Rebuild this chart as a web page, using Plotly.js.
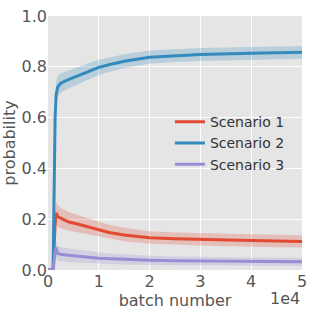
<!DOCTYPE html>
<html><head><meta charset="utf-8">
<script src="https://cdn.plot.ly/plotly-3.0.1.min.js"></script>
<style>html,body{margin:0;padding:0;background:#fff}</style>
</head><body><div id="chart" style="width:318px;height:318px"></div>
<script>
const batches = [0, 500, 1000, 1400, 1600, 1900, 2500, 4000, 6000, 8000, 10000, 12000, 15000, 20000, 25000, 30000, 40000, 50000];
const seriesNames = ["Scenario 1", "Scenario 2", "Scenario 3"];
const s1Mean  = [0, 0, 0, 0.18, 0.225, 0.21, 0.205, 0.19, 0.18, 0.17, 0.158, 0.148, 0.138, 0.127, 0.123, 0.12, 0.116, 0.112];
const s1Lower = [0, 0, 0, 0.13, 0.18, 0.17, 0.165, 0.155, 0.148, 0.14, 0.13, 0.122, 0.113, 0.103, 0.099, 0.096, 0.092, 0.089];
const s1Upper = [0, 0, 0, 0.23, 0.27, 0.255, 0.245, 0.228, 0.215, 0.203, 0.19, 0.178, 0.166, 0.153, 0.148, 0.145, 0.141, 0.137];
const s2Mean  = [0, 0, 0, 0.6, 0.69, 0.72, 0.735, 0.75, 0.765, 0.78, 0.798, 0.808, 0.822, 0.838, 0.844, 0.848, 0.853, 0.857];
const s2Lower = [0, 0, 0, 0.55, 0.65, 0.68, 0.698, 0.715, 0.732, 0.75, 0.768, 0.78, 0.795, 0.812, 0.819, 0.823, 0.828, 0.832];
const s2Upper = [0, 0, 0, 0.65, 0.74, 0.765, 0.775, 0.785, 0.8, 0.812, 0.828, 0.836, 0.849, 0.864, 0.87, 0.874, 0.878, 0.882];
const s3Mean  = [0, 0, 0, 0.07, 0.088, 0.066, 0.062, 0.058, 0.055, 0.05, 0.046, 0.044, 0.042, 0.038, 0.036, 0.035, 0.033, 0.032];
const s3Lower = [0, 0, 0, 0.04, 0.05, 0.035, 0.033, 0.031, 0.029, 0.026, 0.024, 0.023, 0.022, 0.02, 0.019, 0.018, 0.017, 0.017];
const s3Upper = [0, 0, 0, 0.1, 0.115, 0.095, 0.09, 0.085, 0.08, 0.074, 0.068, 0.065, 0.062, 0.056, 0.053, 0.051, 0.049, 0.048];
const xTickVals = [0, 10000, 20000, 30000, 40000, 50000];
const xTickText = ["0", "1", "2", "3", "4", "5"];
const yTickVals = [0, 0.2, 0.4, 0.6, 0.8, 1.0];
const yTickText = ["0.0", "0.2", "0.4", "0.6", "0.8", "1.0"];

const colors = ["#E24A33", "#348ABD", "#988ED5"];
const fills = ["rgba(226,74,51,0.25)", "rgba(52,138,189,0.25)", "rgba(152,142,213,0.25)"];
const means = [s1Mean, s2Mean, s3Mean];
const lowers = [s1Lower, s2Lower, s3Lower];
const uppers = [s1Upper, s2Upper, s3Upper];

const traces = [];
for (let i = 0; i < 3; i++) {
  traces.push({x: batches, y: lowers[i], mode: "lines", line: {width: 0, color: colors[i]}, showlegend: false, hoverinfo: "skip"});
  traces.push({x: batches, y: uppers[i], mode: "lines", line: {width: 0, color: colors[i]}, fill: "tonexty", fillcolor: fills[i], showlegend: false, hoverinfo: "skip"});
}
for (let i = 0; i < 3; i++) {
  traces.push({x: batches, y: means[i], mode: "lines", name: seriesNames[i], line: {width: 3, color: colors[i]}});
}

const tf = {family: "DejaVu Sans", size: 16, color: "#555"};
const layout = {
  width: 318, height: 318,
  margin: {l: 48, r: 16, t: 16, b: 48},
  paper_bgcolor: "#fff", plot_bgcolor: "#E5E5E5",
  font: tf,
  xaxis: {range: [0, 50000], tickvals: xTickVals, ticktext: xTickText, showgrid: true, gridcolor: "#fff", gridwidth: 1, zeroline: false, showline: false, ticks: "", ticklen: 0, tickfont: tf,
    title: {text: "batch number", font: tf, standoff: 0}},
  yaxis: {range: [0, 1.0], tickvals: yTickVals, ticktext: yTickText, showgrid: true, gridcolor: "#fff", gridwidth: 1, zeroline: false, showline: false, ticks: "", tickfont: tf,
    title: {text: "probability", font: tf, standoff: 4}},
  legend: {x: 0.48, y: 0.645, xanchor: "left", yanchor: "top", traceorder: "normal", bgcolor: "rgba(0,0,0,0)", font: {family: "DejaVu Sans", size: 14, color: "#333"}, itemwidth: 30, tracegroupgap: 0},
  annotations: [{text: "1e4", xref: "paper", yref: "paper", x: 1.0, y: 0, xanchor: "right", yanchor: "top", yshift: -17, showarrow: false, font: tf}],
  showlegend: true
};
Plotly.newPlot("chart", traces, layout, {displayModeBar: false, staticPlot: true});
</script></body></html>
